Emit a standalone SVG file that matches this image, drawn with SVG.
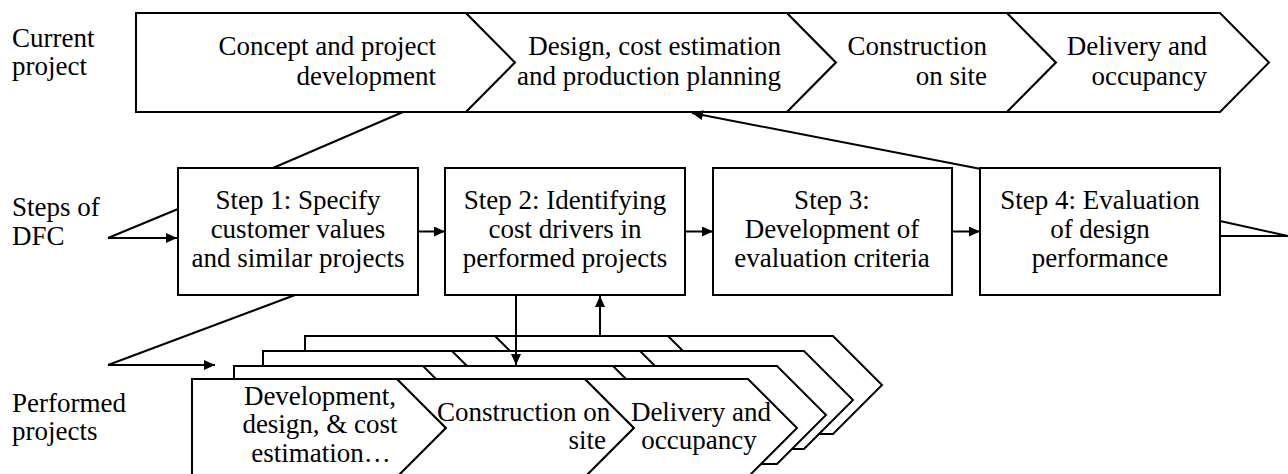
<svg xmlns="http://www.w3.org/2000/svg" width="1288" height="474" viewBox="0 0 1288 474">
<style>
.s{fill:#fff;stroke:#000;stroke-width:2;stroke-linejoin:miter}
.n{fill:none;stroke:#000;stroke-width:2}
text{font-family:'Liberation Serif','DejaVu Serif',serif;font-size:27px;fill:#000}
.c{text-anchor:middle}
.e{text-anchor:end}
.l{fill:none;stroke:#000;stroke-width:2}
</style>
<defs>
<marker id="ah" markerUnits="userSpaceOnUse" markerWidth="11" markerHeight="10" refX="11" refY="5" orient="auto">
<path d="M0,0 L11,5 L0,10 z" fill="#000"/>
</marker>
</defs>
<rect width="1288" height="474" fill="#fff"/>

<g id="labels">
<text x="12" y="47">Current</text>
<text x="12" y="75">project</text>
<text x="12" y="216">Steps of</text>
<text x="12" y="245">DFC</text>
<text x="12" y="412">Performed</text>
<text x="12" y="440">projects</text>
</g>

<g id="cur-concept">
<polygon class="s" points="136,13 466,13 515,62.5 466,112 136,112"/>
<text class="e" x="436" y="55">Concept and project</text>
<text class="e" x="436" y="85">development</text>
</g>
<g id="cur-design">
<polygon class="s" points="466,13 787,13 836,62.5 787,112 466,112 515,62.5"/>
<text class="e" x="781" y="55">Design, cost estimation</text>
<text class="e" x="781" y="85">and production planning</text>
</g>
<g id="cur-construction">
<polygon class="s" points="787,13 1007,13 1056,62.5 1007,112 787,112 836,62.5"/>
<text class="e" x="987" y="55">Construction</text>
<text class="e" x="987" y="85">on site</text>
</g>
<g id="cur-delivery">
<polygon class="s" points="1007,13 1220,13 1269,62.5 1220,112 1007,112 1056,62.5"/>
<text class="e" x="1207" y="55">Delivery and</text>
<text class="e" x="1207" y="85">occupancy</text>
</g>

<g id="step1">
<rect class="s" x="178" y="168" width="240" height="127"/>
<text class="c" x="298" y="209">Step 1: Specify</text>
<text class="c" x="298" y="238">customer values</text>
<text class="c" x="298" y="267">and similar projects</text>
</g>
<g id="step2">
<rect class="s" x="445" y="168" width="240" height="127"/>
<text class="c" x="565" y="209">Step 2: Identifying</text>
<text class="c" x="565" y="238">cost drivers in</text>
<text class="c" x="565" y="267">performed projects</text>
</g>
<g id="step3">
<rect class="s" x="713" y="168" width="239" height="127"/>
<text class="c" x="832" y="209">Step 3:</text>
<text class="c" x="832" y="238">Development of</text>
<text class="c" x="832" y="267">evaluation criteria</text>
</g>
<g id="step4">
<rect class="s" x="980" y="168" width="240" height="127"/>
<text class="c" x="1100" y="209">Step 4: Evaluation</text>
<text class="c" x="1100" y="238">of design</text>
<text class="c" x="1100" y="267">performance</text>
</g>

<g id="perf-layer4">
<polygon class="s" points="305,336 833,336 882,385 833,434 305,434"/>
<polyline class="n" points="495,336 544,385 495,434"/>
<polyline class="n" points="668,336 717,385 668,434"/>
</g>
<g id="perf-layer3">
<polygon class="s" points="263,351 804,351 853,400 804,449 263,449"/>
<polyline class="n" points="452,351 501,400 452,449"/>
<polyline class="n" points="640,351 689,400 640,449"/>
</g>
<g id="perf-layer2">
<polygon class="s" points="234,366 777,366 826,415 777,464 234,464"/>
<polyline class="n" points="423,366 472,415 423,464"/>
<polyline class="n" points="613,366 662,415 613,464"/>
</g>
<g id="perf-development">
<polygon class="s" points="192,379 397,379 446,428 397,477 192,477"/>
<text class="c" x="320" y="405">Development,</text>
<text class="c" x="320" y="433">design, &amp; cost</text>
<text class="c" x="321" y="462">estimation…</text>
</g>
<g id="perf-construction">
<polygon class="s" points="397,379 585,379 634,428 585,477 397,477 446,428"/>
<text x="437" y="421">Construction on</text>
<text class="e" x="606" y="449">site</text>
</g>
<g id="perf-delivery">
<polygon class="s" points="585,379 748,379 797,428 748,477 585,477 634,428"/>
<text class="c" x="701" y="421">Delivery and</text>
<text class="c" x="699" y="449">occupancy</text>
</g>

<g id="connectors">
<line class="l" x1="403" y1="112" x2="273" y2="168"/>
<polyline class="l" points="178,209 108,238"/>
<line class="l" x1="108" y1="238" x2="177" y2="238" marker-end="url(#ah)"/>
<line class="l" x1="418" y1="231.5" x2="445" y2="231.5" marker-end="url(#ah)"/>
<line class="l" x1="685" y1="231.5" x2="713" y2="231.5" marker-end="url(#ah)"/>
<line class="l" x1="952" y1="231.5" x2="980" y2="231.5" marker-end="url(#ah)"/>
<line class="l" x1="981" y1="169" x2="692" y2="113" marker-end="url(#ah)"/>
<polyline class="l" points="1220,221 1288,236"/>
<line class="l" x1="1220" y1="236" x2="1288" y2="236"/>
<line class="l" x1="295" y1="295" x2="108" y2="365"/>
<line class="l" x1="108" y1="365" x2="215" y2="365" marker-end="url(#ah)"/>
<line class="l" x1="516" y1="295" x2="516" y2="365" marker-end="url(#ah)"/>
<line class="l" x1="600" y1="336" x2="600" y2="296" marker-end="url(#ah)"/>
</g>
</svg>
